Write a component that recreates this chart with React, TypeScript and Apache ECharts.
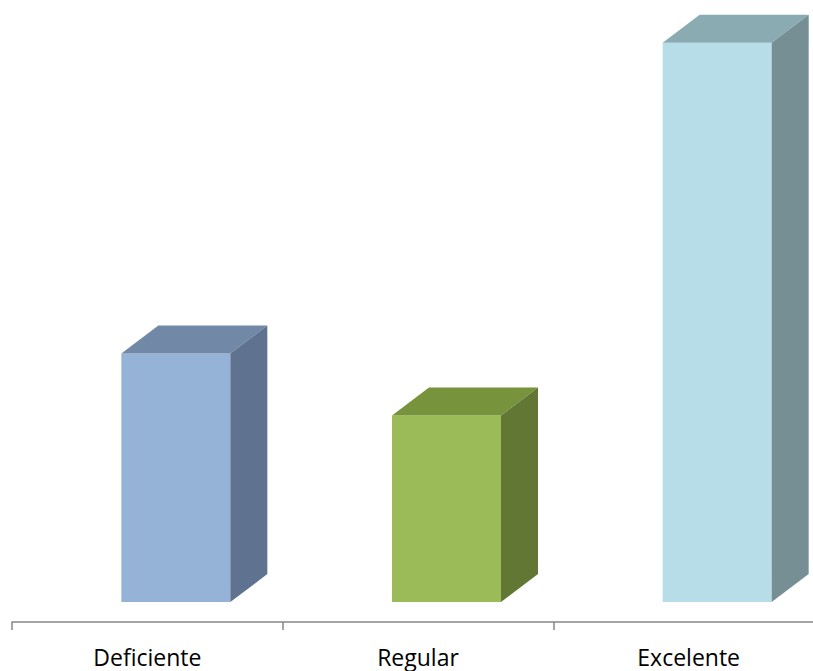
import React, { useEffect, useRef } from "react";
import * as echarts from "echarts";

// Ratings and their counts
const categories = ["Deficiente", "Regular", "Excelente"];
const values = [4, 3, 9];

// Shading for each bar: front, top, side faces
const frontColors = ["#95B3D7", "#9BBB59", "#B7DEE8"];
const topColors = ["#7189A7", "#77933C", "#8AABB2"];
const sideColors = ["#5F7390", "#637735", "#768F94"];

// Extruded box geometry (pixels)
const BAR_WIDTH = 109;
const BAR_SHIFT = -26; // front face left edge relative to band centre
const DEPTH_X = 37;
const DEPTH_Y = -28;

export default function App() {
  const ref = useRef<HTMLDivElement>(null);

  useEffect(() => {
    if (!ref.current) return;
    const chart = echarts.init(ref.current, undefined, { renderer: "svg" });

    const renderItem = (params: any, api: any) => {
      const idx = api.value(0);
      const val = api.value(1);
      const top = api.coord([idx, val]);
      const base = api.coord([idx, 0]);
      const x0 = top[0] + BAR_SHIFT;
      const x1 = x0 + BAR_WIDTH;
      const yt = top[1];
      const yb = base[1];
      const i = params.dataIndex;
      return {
        type: "group",
        children: [
          {
            type: "polygon",
            shape: { points: [[x0, yt], [x1, yt], [x1, yb], [x0, yb]] },
            style: { fill: frontColors[i] },
          },
          {
            type: "polygon",
            shape: {
              points: [
                [x0, yt],
                [x0 + DEPTH_X, yt + DEPTH_Y],
                [x1 + DEPTH_X, yt + DEPTH_Y],
                [x1, yt],
              ],
            },
            style: { fill: topColors[i] },
          },
          {
            type: "polygon",
            shape: {
              points: [
                [x1, yt],
                [x1 + DEPTH_X, yt + DEPTH_Y],
                [x1 + DEPTH_X, yb + DEPTH_Y],
                [x1, yb],
              ],
            },
            style: { fill: sideColors[i] },
          },
        ],
      };
    };

    chart.setOption({
      animation: false,
      grid: { left: 12, right: 0, top: 24, bottom: 49 },
      xAxis: {
        type: "category",
        data: categories,
        axisLine: { onZero: false, lineStyle: { color: "#868686", width: 1.5 } },
        axisTick: { show: true, length: 8, lineStyle: { color: "#868686", width: 1.5 } },
        axisLabel: {
          color: "#000000",
          fontFamily: "Open Sans",
          fontSize: 23,
          margin: 23,
        },
        splitLine: { show: false },
      },
      yAxis: {
        type: "value",
        min: -0.32,
        max: 9.3,
        show: false,
        splitLine: { show: false },
      },
      series: [
        {
          type: "custom",
          renderItem,
          data: values.map((v, i) => [i, v]),
        },
      ],
    });

    return () => chart.dispose();
  }, []);

  // The axis runs past the right edge of the frame, so the chart is wider than its viewport
  return (
    <div
      style={{
        position: "fixed",
        left: 0,
        top: 0,
        width: 813,
        height: 671,
        overflow: "hidden",
        background: "#ffffff",
      }}
    >
      <div ref={ref} style={{ width: 824, height: 671 }} />
    </div>
  );
}
